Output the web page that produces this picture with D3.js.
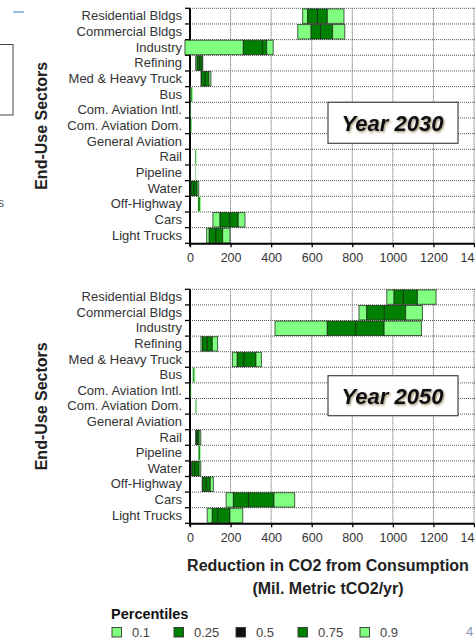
<!DOCTYPE html>
<html>
<head>
<meta charset="utf-8">
<script src="https://cdn.jsdelivr.net/npm/d3@7/dist/d3.min.js"></script>
<style>
  html, body { margin: 0; padding: 0; background: #fff; }
  svg { display: block; }
  text { font-family: "Liberation Sans", Arial, sans-serif; }
</style>
</head>
<body>
<svg id="chart" width="475" height="640"></svg>
<script>
// End-use sectors, top to bottom
const sectors = [
  "Residential Bldgs", "Commercial Bldgs", "Industry", "Refining",
  "Med & Heavy Truck", "Bus", "Com. Aviation Intl.", "Com. Aviation Dom.",
  "General Aviation", "Rail", "Pipeline", "Water", "Off-Highway",
  "Cars", "Light Trucks"
];

// Percentile levels shown in the legend
const percentiles = ["0.1", "0.25", "0.5", "0.75", "0.9"];

// X axis tick values (Mil. Metric tCO2/yr)
const xTicks = [0, 200, 400, 600, 800, 1000, 1200, 1400];

// CO2 reduction by sector, 2030: [p10, p25, p50, p75, p90]
const reduction2030 = [
  [555, 580, 628, 677, 759],
  [531, 597, 644, 703, 763],
  [-25, 263, 357, 378, 410],
  [28, 35, 48, 60, 63],
  [54, 57, 75, 93, 103],
  [3, 5, 8, 11, 15],
  [0, 1, 2, 3, 4],
  [2, 3, 5, 7, 9],
  [0, 0, 0, 0, 0],
  [25, 26, 28, 30, 32],
  [25, 26, 27, 28, 29],
  [4, 6, 20, 35, 43],
  [38, 40, 45, 50, 54],
  [113, 148, 197, 238, 271],
  [82, 95, 128, 161, 197]
];

// CO2 reduction by sector, 2050: [p10, p25, p50, p75, p90]
const reduction2050 = [
  [970, 1006, 1052, 1121, 1213],
  [833, 871, 958, 1063, 1146],
  [419, 677, 817, 957, 1141],
  [54, 62, 85, 110, 136],
  [209, 233, 266, 325, 352],
  [12, 14, 18, 22, 26],
  [0, 1, 3, 5, 6],
  [27, 28, 30, 32, 34],
  [0, 0, 0, 0, 0],
  [28, 30, 35, 45, 53],
  [40, 42, 45, 50, 53],
  [8, 10, 25, 45, 53],
  [60, 63, 80, 100, 115],
  [178, 214, 288, 414, 516],
  [85, 110, 137, 197, 260]
];

// Colours for each percentile band (p10-p25, p25-p50, p50-p75, p75-p90) and legend swatches
const LIGHT = "#80ff80", DARK = "#008000", MED = "#111111";
const bandFill = [LIGHT, DARK, DARK, LIGHT];
const legendFill = [LIGHT, DARK, MED, DARK, LIGHT];

const svg = d3.select("#chart");

// Shadow used on the year captions
const defs = svg.append("defs");
const f = defs.append("filter").attr("id", "yearShadow")
  .attr("x", "-10%").attr("y", "-20%").attr("width", "130%").attr("height", "150%");
f.append("feDropShadow").attr("dx", 1).attr("dy", 1.2)
  .attr("stdDeviation", 0.8).attr("flood-color", "#6b5a20").attr("flood-opacity", 0.7);

const x = d3.scaleLinear().domain([0, 1400]).range([190, 474]);
const X0 = x(0), X1 = x(1400);

const panels = [
  { year: "Year 2030", data: reduction2030, top: 8.3, bottom: 243.3,
    box: { x: 328, y: 102.3, w: 130, h: 41 } },
  { year: "Year 2050", data: reduction2050, top: 289.3, bottom: 523.3,
    box: { x: 328, y: 375.7, w: 130, h: 40 } }
];

panels.forEach(p => {
  const g = svg.append("g");
  const y = d3.scaleBand().domain(sectors).range([p.top, p.bottom]).padding(0);
  const step = y.step();
  const boundaries = sectors.map(s => y(s));

  // dotted horizontal grid at sector boundaries
  g.append("g").selectAll("line").data(boundaries).join("line")
    .attr("x1", X0).attr("x2", X1 + 2)
    .attr("y1", d => d).attr("y2", d => d)
    .attr("stroke", "#555").attr("stroke-width", 1)
    .attr("stroke-dasharray", "1,1");

  // dotted vertical grid at x ticks
  g.append("g").selectAll("line").data(xTicks.slice(1)).join("line")
    .attr("x1", d => x(d)).attr("x2", d => x(d))
    .attr("y1", p.top).attr("y2", p.bottom)
    .attr("stroke", "#555").attr("stroke-width", 1)
    .attr("stroke-dasharray", "1,1");

  // year caption box
  g.append("rect")
    .attr("x", p.box.x).attr("y", p.box.y)
    .attr("width", p.box.w).attr("height", p.box.h)
    .attr("fill", "#fff").attr("stroke", "#444").attr("stroke-width", 1.2);
  g.append("text")
    .attr("x", p.box.x + p.box.w / 2 - 0.5)
    .attr("y", p.box.y + p.box.h / 2 + 8)
    .attr("text-anchor", "middle")
    .attr("font-family", "Lato, 'Open Sans', sans-serif")
    .attr("font-style", "italic").attr("font-weight", 700)
    .attr("font-size", 22).attr("fill", "#0a0a14")
    .attr("filter", "url(#yearShadow)")
    .text(p.year);

  // x axis
  const xAxis = g.append("g")
    .attr("transform", `translate(0,${p.bottom})`)
    .call(d3.axisBottom(x).tickValues(xTicks).tickFormat(d3.format("d"))
      .tickSizeInner(4).tickSizeOuter(0).tickPadding(6));
  xAxis.select(".domain").attr("stroke", "#000").attr("stroke-width", 2);
  xAxis.selectAll(".tick line").attr("stroke", "#000").attr("stroke-width", 1.3);
  xAxis.selectAll(".tick text")
    .attr("fill", "#333").attr("font-size", 12.5)
    .attr("font-family", "'Liberation Sans', Arial, sans-serif");

  // y axis: labels at band centres, ticks at band boundaries
  const yAxis = g.append("g")
    .attr("transform", `translate(${X0},0)`)
    .call(d3.axisLeft(y).tickSize(0).tickPadding(8));
  yAxis.select(".domain").remove();
  yAxis.selectAll(".tick text")
    .attr("fill", "#333").attr("font-size", 13)
    .attr("font-family", "'Liberation Sans', Arial, sans-serif");
  g.append("line")
    .attr("x1", X0).attr("x2", X0)
    .attr("y1", p.top).attr("y2", p.bottom + 3)
    .attr("stroke", "#000").attr("stroke-width", 2);
  g.append("g").selectAll("line").data(boundaries.concat([p.bottom])).join("line")
    .attr("x1", X0 - 5).attr("x2", X0)
    .attr("y1", d => d).attr("y2", d => d)
    .attr("stroke", "#000").attr("stroke-width", 1.3);

  // percentile range bars
  const rows = g.append("g").selectAll("g").data(p.data.map((v, i) => ({ s: sectors[i], v })))
    .join("g");
  rows.each(function (row) {
    const segs = [0, 1, 2, 3].map(k => ({ a: row.v[k], b: row.v[k + 1], fill: bandFill[k] }));
    const total = x(row.v[4]) - x(row.v[0]);
    const thin = total < 5;
    d3.select(this).selectAll("rect").data(segs.filter(d => d.b > d.a)).join("rect")
      .attr("x", d => x(d.a))
      .attr("width", d => x(d.b) - x(d.a))
      .attr("y", y(row.s) + 0.6)
      .attr("height", step - 1.2)
      .attr("fill", d => d.fill)
      .attr("stroke", thin ? "none" : "#1a2a1a")
      .attr("stroke-opacity", 0.75)
      .attr("stroke-width", 1);
  });

  // y axis title
  svg.append("text")
    .attr("transform", `translate(47,${(p.top + p.bottom) / 2}) rotate(-90)`)
    .attr("text-anchor", "middle")
    .attr("font-size", 16).attr("font-weight", 700).attr("fill", "#222")
    .text("End-Use Sectors");
});

// x axis title
const xt = svg.append("text").attr("text-anchor", "middle")
  .attr("font-size", 16).attr("font-weight", 700).attr("fill", "#222");
xt.append("tspan").attr("x", 328).attr("y", 571).text("Reduction in CO2 from Consumption");
xt.append("tspan").attr("x", 328).attr("y", 594).text("(Mil. Metric tCO2/yr)");

// legend
svg.append("text").attr("x", 111).attr("y", 618.5)
  .attr("font-size", 14.5).attr("font-weight", 700).attr("fill", "#111")
  .text("Percentiles");
const lg = svg.append("g").selectAll("g").data(percentiles).join("g")
  .attr("transform", (d, i) => `translate(${112 + i * 62},627.5)`);
lg.append("rect").attr("width", 9.5).attr("height", 9.5)
  .attr("fill", (d, i) => legendFill[i]).attr("stroke", "#333").attr("stroke-width", 0.9);
lg.append("text").attr("x", 20).attr("y", 9.5)
  .attr("font-size", 13).attr("fill", "#444").text(d => d);

// slide fragments around the chart
svg.append("line").attr("x1", 13).attr("x2", 24).attr("y1", 12).attr("y2", 12)
  .attr("stroke", "#6fa8dc").attr("stroke-width", 1.5);
svg.append("rect").attr("x", -2).attr("y", 44.5).attr("width", 15).attr("height", 70.5)
  .attr("fill", "none").attr("stroke", "#444").attr("stroke-width", 1);
svg.append("text").attr("x", -2).attr("y", 207).attr("font-size", 12).attr("fill", "#555").text("s");
svg.append("text").attr("x", 466).attr("y", 636).attr("font-size", 13).attr("fill", "#8497b0").text("4");
</script>
</body>
</html>
